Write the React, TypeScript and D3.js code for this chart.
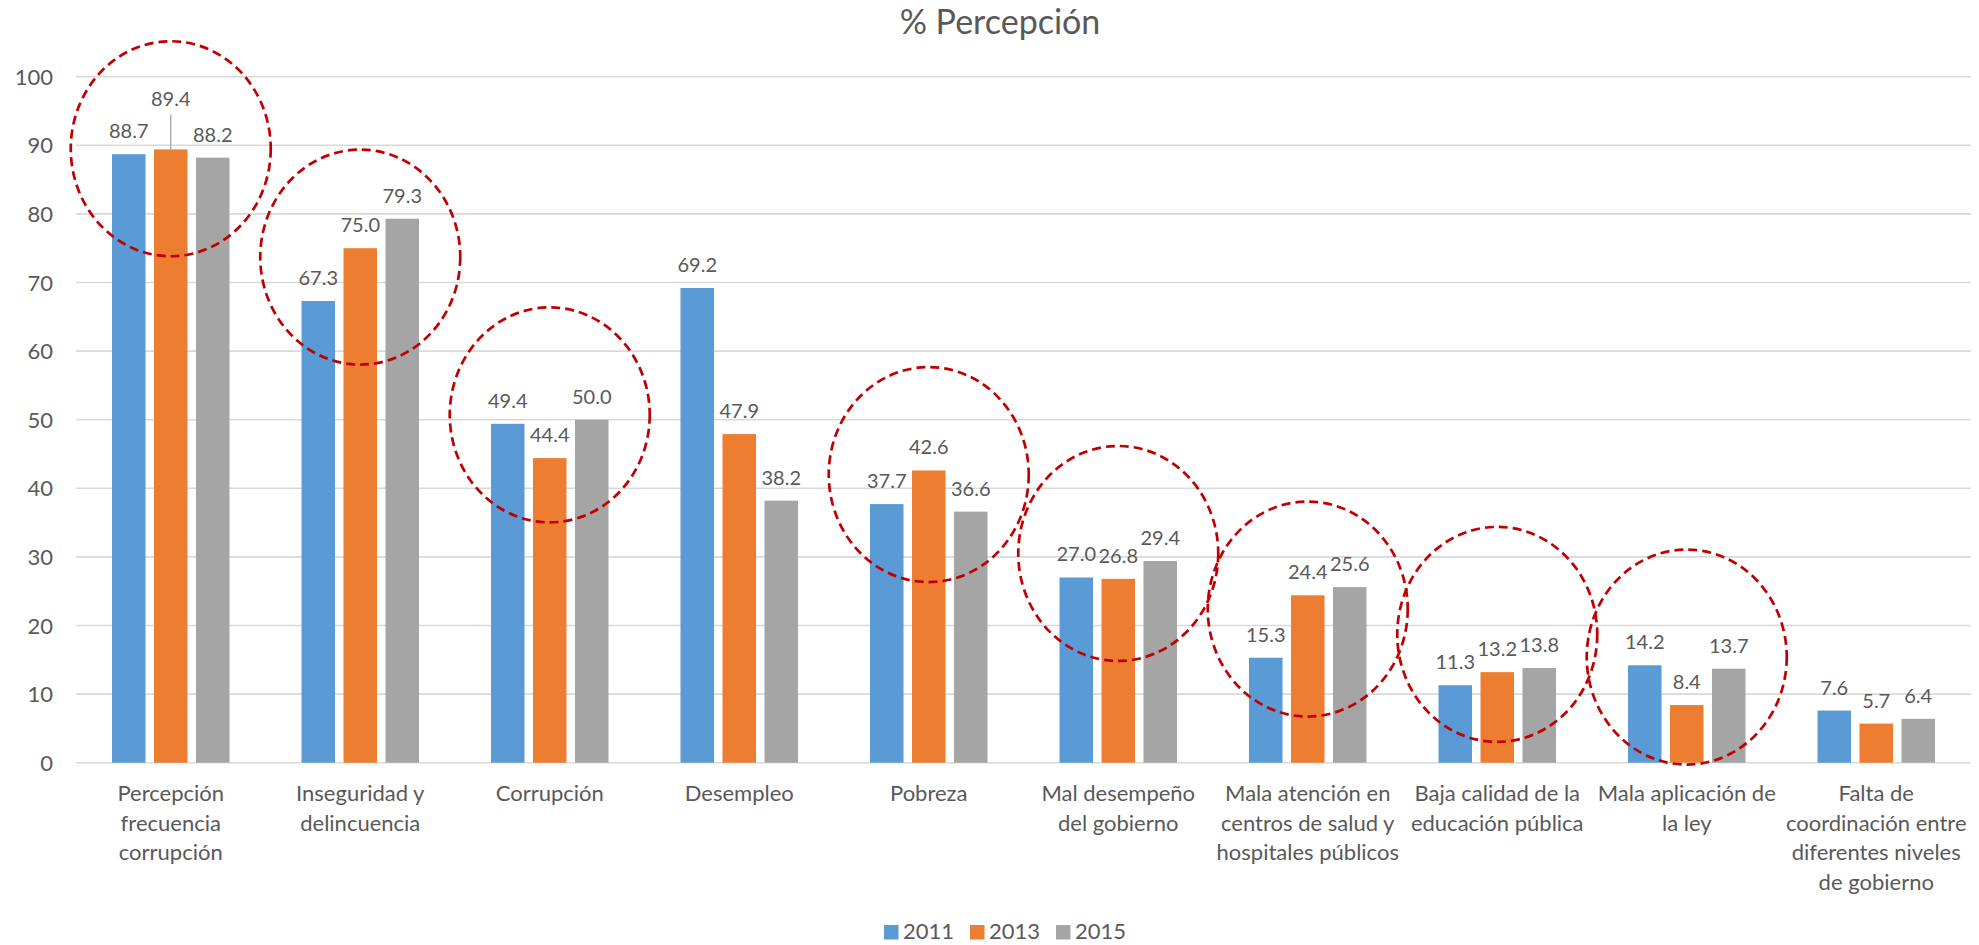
import * as d3 from "d3";

const categories = [
  "Percepción frecuencia corrupción",
  "Inseguridad y delincuencia",
  "Corrupción",
  "Desempleo",
  "Pobreza",
  "Mal desempeño del gobierno",
  "Mala atención en centros de salud y hospitales públicos",
  "Baja calidad de la educación pública",
  "Mala aplicación de la ley",
  "Falta de coordinación entre diferentes niveles de gobierno",
];

// how the axis labels wrap in the original
const categoryLines = [
  ["Percepción", "frecuencia", "corrupción"],
  ["Inseguridad y", "delincuencia"],
  ["Corrupción"],
  ["Desempleo"],
  ["Pobreza"],
  ["Mal desempeño", "del gobierno"],
  ["Mala atención en", "centros de salud y", "hospitales públicos"],
  ["Baja calidad de la", "educación pública"],
  ["Mala aplicación de", "la ley"],
  ["Falta de", "coordinación entre", "diferentes niveles", "de gobierno"],
];

const seriesNames = ["2011", "2013", "2015"];
const values2011 = [88.7, 67.3, 49.4, 69.2, 37.7, 27.0, 15.3, 11.3, 14.2, 7.6];
const values2013 = [89.4, 75.0, 44.4, 47.9, 42.6, 26.8, 24.4, 13.2, 8.4, 5.7];
const values2015 = [88.2, 79.3, 50.0, 38.2, 36.6, 29.4, 25.6, 13.8, 13.7, 6.4];
const yTicks = [0, 10, 20, 30, 40, 50, 60, 70, 80, 90, 100];

// red dashed rings drawn over the chart: which group, and the height (in %) of their centre
const circledGroups = [0, 1, 2, 4, 5, 6, 7, 8];
const circleCentres = [89.5, 73.7, 50.7, 42.0, 30.5, 22.4, 18.7, 15.4];

const colors = ["#5B9BD5", "#ED7D31", "#A5A5A5"];
const textColor = "#595959";
const font = "Lato, 'Open Sans', sans-serif";

const width = 1979;
const height = 945;

export default function App() {
  const seriesValues = [values2011, values2013, values2015];

  const x0 = d3
    .scaleBand<string>()
    .domain(categories)
    .range([76, 1971])
    .paddingInner(0.38)
    .paddingOuter(0.19);
  const x1 = d3
    .scaleBand<string>()
    .domain(seriesNames)
    .range([0, x0.bandwidth()])
    .paddingInner(0.202);
  const y = d3.scaleLinear().domain([0, 100]).range([762.7, 76.7]);

  const groupCentre = (i: number) => x0(categories[i])! + x0.bandwidth() / 2;

  return (
    <svg
      width={width}
      height={height}
      style={{ position: "absolute", left: 0, top: 0, background: "#fff" }}
      fontFamily={font}
    >
      <text x={1000} y={34} textAnchor="middle" fontSize={34} fill={textColor}>
        % Percepción
      </text>

      {/* gridlines + y ticks */}
      {yTicks.map((t) => (
        <g key={t}>
          <line x1={76} x2={1971} y1={y(t)} y2={y(t)} stroke="#D9D9D9" strokeWidth={1.6} />
          <text x={53} y={y(t) + 8} textAnchor="end" fontSize={22} fill={textColor}>
            {t}
          </text>
        </g>
      ))}

      {/* bars */}
      {seriesNames.map((s, si) =>
        categories.map((c, ci) => {
          const v = seriesValues[si][ci];
          const bx = x0(c)! + x1(s)!;
          return (
            <rect
              key={s + c}
              x={bx}
              y={y(v)}
              width={x1.bandwidth()}
              height={y(0) - y(v)}
              fill={colors[si]}
            />
          );
        })
      )}

      {/* data labels */}
      {seriesNames.map((s, si) =>
        categories.map((c, ci) => {
          const v = seriesValues[si][ci];
          const cx = x0(c)! + x1(s)! + x1.bandwidth() / 2;
          // the 89.4 label was dragged up in the original, with a leader line
          const lifted = ci === 0 && si === 1;
          const ly = y(v) - 16 - (lifted ? 27 : 0);
          return (
            <g key={"l" + s + c}>
              {lifted && (
                <line x1={cx} x2={cx} y1={ly + 8} y2={y(v)} stroke="#A6A6A6" strokeWidth={1.3} />
              )}
              <text x={cx} y={ly} textAnchor="middle" fontSize={20} fill={textColor}>
                {v.toFixed(1)}
              </text>
            </g>
          );
        })
      )}

      {/* category labels */}
      {categoryLines.map((lines, i) => (
        <text key={"c" + i} textAnchor="middle" fontSize={22} fill={textColor}>
          {lines.map((ln, k) => (
            <tspan key={k} x={groupCentre(i)} y={801 + k * 29.5}>
              {ln}
            </tspan>
          ))}
        </text>
      ))}

      {/* annotation rings */}
      {circledGroups.map((g, i) => (
        <ellipse
          key={"e" + i}
          cx={groupCentre(g)}
          cy={y(circleCentres[i])}
          rx={100}
          ry={107.5}
          fill="none"
          stroke="#C00000"
          strokeWidth={2.7}
          strokeDasharray="9 5"
        />
      ))}

      {/* legend */}
      {seriesNames.map((s, i) => (
        <g key={"lg" + s} transform={`translate(${884 + i * 86},0)`}>
          <rect x={0} y={925} width={14.5} height={14.5} fill={colors[i]} />
          <text x={19} y={939} fontSize={22} fill={textColor}>
            {s}
          </text>
        </g>
      ))}
    </svg>
  );
}
